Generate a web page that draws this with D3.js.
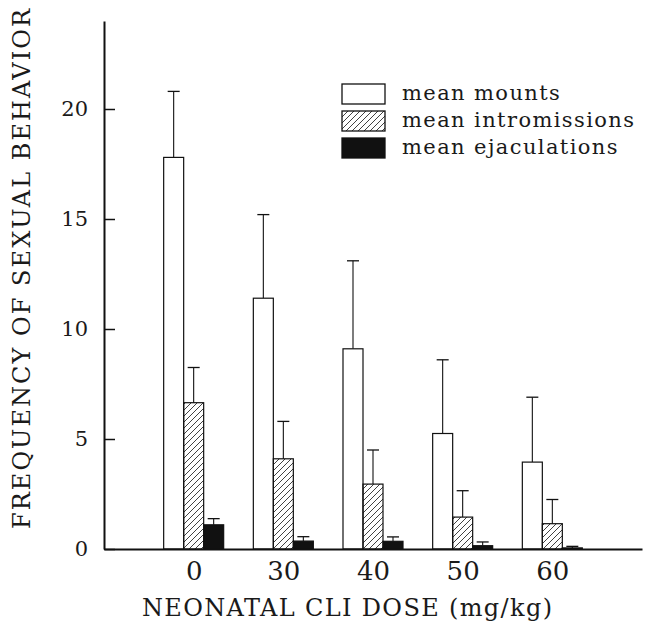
<!DOCTYPE html>
<html>
<head>
<meta charset="utf-8">
<script src="https://cdn.jsdelivr.net/npm/d3@7"></script>
<style>
body { margin: 0; background: white; }
svg { display: block; }
text { font-family: "DejaVu Serif", serif; fill: #1a1a1a; }
</style>
</head>
<body>
<svg id="mysvg" width="648" height="632"></svg>
<script>
let doses = ["0", "30", "40", "50", "60"];
let seriesNames = ["mean mounts", "mean intromissions", "mean ejaculations"];
let mounts = [17.8, 11.4, 9.1, 5.25, 3.95];
let mountsErr = [3.0, 3.8, 4.0, 3.35, 2.95];
let intromissions = [6.65, 4.1, 2.95, 1.45, 1.15];
let intromissionsErr = [1.6, 1.7, 1.55, 1.2, 1.1];
let ejaculations = [1.1, 0.36, 0.35, 0.15, 0.05];
let ejaculationsErr = [0.28, 0.2, 0.2, 0.17, 0.07];
let yTicks = [0, 5, 10, 15, 20];

let svg = d3.select('#mysvg');

// hatch for intromissions
let defs = svg.append("defs");
defs.append("pattern")
    .attr("id", "hatch")
    .attr("patternUnits", "userSpaceOnUse")
    .attr("width", 6).attr("height", 6)
  .append("path")
    .attr("d", "M-1,1 l2,-2 M0,6 l6,-6 M5,7 l2,-2")
    .attr("stroke", "#111")
    .attr("stroke-width", 0.8);

let fills = ["white", "url(#hatch)", "#111"];

let x = d3.scalePoint().domain(doses).range([104, 642]).padding(1);
let inner = d3.scaleBand().domain(seriesNames).range([-30, 30]);
let y = d3.scaleLinear().domain([0, 24]).range([549, 21]);

let stack = [
    {name: seriesNames[0], vals: mounts, errs: mountsErr},
    {name: seriesNames[1], vals: intromissions, errs: intromissionsErr},
    {name: seriesNames[2], vals: ejaculations, errs: ejaculationsErr}
];

let barData = [];
stack.forEach(function(s, si) {
    s.vals.forEach(function(v, i) {
        barData.push({dose: doses[i], series: s.name, si: si, value: v, err: s.errs[i]});
    });
});

function cx(d) { return x(d.dose) + inner(d.series) + inner.bandwidth()/2; }

// error bars (drawn first, bar outline covers the foot)
let errs = svg.selectAll("g.err").data(barData).enter()
    .append("g").attr("class", "err");
errs.append("line")
    .attr("x1", cx).attr("x2", cx)
    .attr("y1", d => y(d.value))
    .attr("y2", d => y(d.value + d.err))
    .attr("stroke", "#111").attr("stroke-width", 1.1);
errs.append("line")
    .attr("x1", d => cx(d) - 6)
    .attr("x2", d => cx(d) + 6)
    .attr("y1", d => y(d.value + d.err))
    .attr("y2", d => y(d.value + d.err))
    .attr("stroke", "#111").attr("stroke-width", 1.3);

svg.selectAll("rect.bar").data(barData).enter()
    .append("rect")
    .attr("class", "bar")
    .attr("x", d => x(d.dose) + inner(d.series))
    .attr("y", d => y(d.value))
    .attr("width", inner.bandwidth())
    .attr("height", d => y(0) - y(d.value))
    .attr("fill", d => fills[d.si])
    .attr("stroke", "#111")
    .attr("stroke-width", 1.2);

// y axis, ticks point inward
let yAxis = svg.append("g")
    .attr("transform", "translate(104,0)")
    .call(d3.axisLeft(y).tickValues(yTicks).tickSizeInner(-11).tickSizeOuter(0).tickPadding(16));
yAxis.select(".domain").attr("stroke", "#111").attr("stroke-width", 2);
yAxis.selectAll(".tick line").attr("stroke", "#111").attr("stroke-width", 1.5);
yAxis.selectAll("text")
    .attr("text-anchor", "end")
    .attr("font-family", "DejaVu Serif").attr("font-size", 21).attr("fill", "#1a1a1a");

// x axis
let xAxis = svg.append("g")
    .attr("transform", "translate(0,549)")
    .call(d3.axisBottom(x).tickSize(0).tickPadding(13));
xAxis.select(".domain").attr("stroke", "#111").attr("stroke-width", 2);
xAxis.selectAll("text").attr("font-family", "DejaVu Serif").attr("font-size", 26).attr("fill", "#1a1a1a");

// axis titles
svg.append("text")
    .attr("transform", "translate(30,269) rotate(-90)")
    .attr("text-anchor", "middle")
    .attr("font-size", 24)
    .attr("textLength", 520)
    .attr("lengthAdjust", "spacing")
    .text("FREQUENCY OF SEXUAL BEHAVIOR");

svg.append("text")
    .attr("x", 347)
    .attr("y", 616)
    .attr("text-anchor", "middle")
    .attr("font-size", 24)
    .attr("textLength", 410)
    .attr("lengthAdjust", "spacing")
    .text("NEONATAL CLI DOSE (mg/kg)");

// legend
let legend = svg.selectAll("g.legend").data(seriesNames).enter()
    .append("g")
    .attr("class", "legend")
    .attr("transform", function(d, i) { return "translate(342, " + (84 + i*27) + ")"; });
legend.append("rect")
    .attr("width", 43).attr("height", 20)
    .attr("fill", (d, i) => fills[i])
    .attr("stroke", "#111").attr("stroke-width", 1.3);
legend.append("text")
    .attr("x", 60).attr("y", 16)
    .attr("font-size", 21)
    .attr("letter-spacing", 1.4)
    .text(d => d);
</script>
</body>
</html>
